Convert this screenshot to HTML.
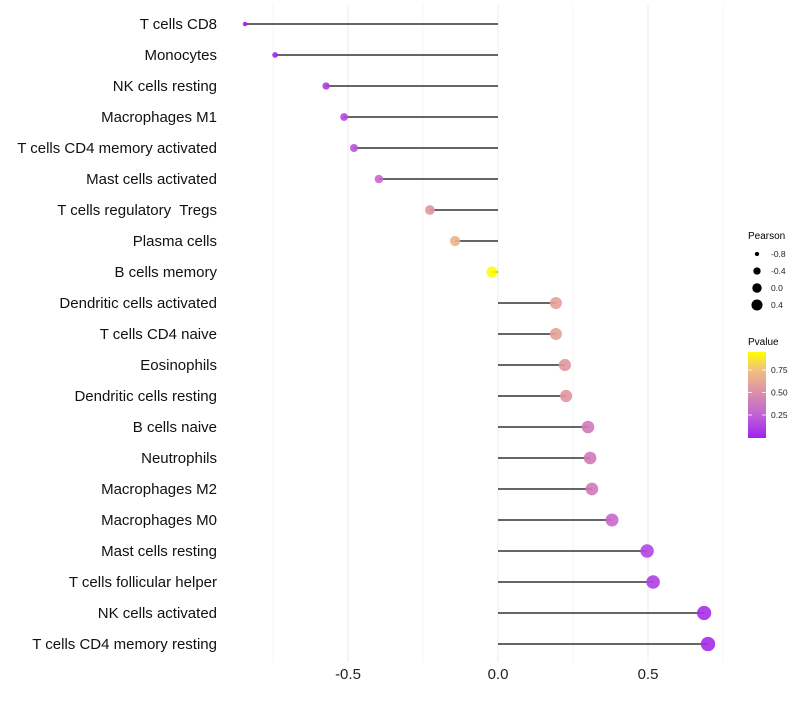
<!DOCTYPE html>
<html><head><meta charset="utf-8"><style>
body{margin:0;background:#fff;}
svg text{font-family:"Liberation Sans",Arial,sans-serif;white-space:pre;}
</style></head><body>
<svg id="chart" width="800" height="700" xmlns="http://www.w3.org/2000/svg">
<g id="grid"></g>
<g id="marks"></g>
<g id="ylabels"></g>
<g id="xlabels"></g>
<g>
<text x="748" y="239" font-size="10" fill="#000">Pearson</text>
<g id="sizeLegend"></g>
</g>
<g>
<text x="748" y="345" font-size="10" fill="#000">Pvalue</text>
<defs><linearGradient id="pg" x1="0" y1="1" x2="0" y2="0">
<stop offset="0" stop-color="#a020f0"/><stop offset="0.26" stop-color="#c060d8"/><stop offset="0.53" stop-color="#dc90a8"/><stop offset="0.79" stop-color="#f0c080"/><stop offset="1" stop-color="#ffff00"/></linearGradient></defs>
<rect x="748" y="352" width="18" height="86" fill="url(#pg)"/>
<g id="colorTicks"></g>
</g>
</svg>
<script>
const categories=["T cells CD8","Monocytes","NK cells resting","Macrophages M1","T cells CD4 memory activated","Mast cells activated","T cells regulatory  Tregs","Plasma cells","B cells memory","Dendritic cells activated","T cells CD4 naive","Eosinophils","Dendritic cells resting","B cells naive","Neutrophils","Macrophages M2","Macrophages M0","Mast cells resting","T cells follicular helper","NK cells activated","T cells CD4 memory resting"];
const pearson=[-0.843,-0.743,-0.573,-0.513,-0.48,-0.397,-0.227,-0.143,-0.02,0.193,0.193,0.223,0.227,0.30,0.307,0.313,0.38,0.497,0.517,0.687,0.70];
const pvalue=[0.0,0.02,0.1,0.15,0.2,0.3,0.55,0.7,0.95,0.6,0.6,0.55,0.55,0.4,0.4,0.4,0.3,0.15,0.12,0.05,0.04];
const xTicks=[-0.5,0,0.5];
const xTickLabels=["-0.5","0.0","0.5"];
const minorTicks=[-0.75,-0.25,0.25,0.75];
const sizeLegendVals=[-0.8,-0.4,0.0,0.4];
const sizeLegendLabels=["-0.8","-0.4","0.0","0.4"];
const colorTickVals=[0.25,0.5,0.75];
const colorTickLabels=["0.25","0.50","0.75"];

const NS="http://www.w3.org/2000/svg";
const x=v=>498+v*300;
const y=i=>24+i*31;
const r=v=>Math.sqrt(5.3+Math.max(0,v+0.84)*30);
const cbY=v=>437.5-v*90;
const stops=[[0,[160,32,240]],[0.25,[192,96,216]],[0.5,[220,140,165]],[0.75,[240,190,128]],[0.95,[255,255,0]]];
function col(p){p=Math.max(0,Math.min(0.95,p));for(let i=1;i<stops.length;i++){if(p<=stops[i][0]){const a=stops[i-1],b=stops[i],t=(p-a[0])/(b[0]-a[0]);return "rgb("+a[1].map((c,k)=>Math.round(c+(b[1][k]-c)*t)).join(",")+")";}}return "rgb(255,255,0)";}
function mk(tag,attrs,parent){const e=document.createElementNS(NS,tag);for(const k in attrs)e.setAttribute(k,attrs[k]);document.getElementById(parent).appendChild(e);return e;}

minorTicks.forEach(v=>{const e=mk("line",{x1:x(v),x2:x(v),y1:5,y2:662,stroke:"#f3f3f3","stroke-width":0.8},"grid");

});
xTicks.forEach((v,i)=>{const e=mk("line",{x1:x(v),x2:x(v),y1:5,y2:662,stroke:"#ebebeb","stroke-width":1},"grid");


const t=mk("text",{x:x(v),y:679,"font-size":15,"text-anchor":"middle",fill:"#222"},"xlabels");t.textContent=xTickLabels[i];

});
categories.forEach((c,i)=>{
const l=mk("line",{x1:x(0),x2:x(pearson[i]),y1:y(i),y2:y(i),stroke:"#333","stroke-width":1.5},"marks");


const p=mk("circle",{cx:x(pearson[i]),cy:y(i),r:r(pearson[i]),fill:col(pvalue[i]),"fill-opacity":0.9},"marks");


const t=mk("text",{x:217,y:y(i)+5,"font-size":15,"text-anchor":"end",fill:"#111"},"ylabels");t.textContent=c;

});
sizeLegendVals.forEach((v,i)=>{const cy=254+i*17;
const c=mk("circle",{cx:757,cy:cy,r:r(v)*0.85,fill:"#000"},"sizeLegend");


const t=mk("text",{x:771,y:cy+3,"font-size":8.5,fill:"#222"},"sizeLegend");t.textContent=sizeLegendLabels[i];

});
colorTickVals.forEach((v,i)=>{
const t=mk("text",{x:771,y:cbY(v)+3,"font-size":8.5,fill:"#222"},"colorTicks");t.textContent=colorTickLabels[i];


mk("line",{x1:748,x2:752,y1:cbY(v),y2:cbY(v),stroke:"#fff","stroke-width":0.8},"colorTicks");
mk("line",{x1:762,x2:766,y1:cbY(v),y2:cbY(v),stroke:"#fff","stroke-width":0.8},"colorTicks");});
</script>
</body></html>
